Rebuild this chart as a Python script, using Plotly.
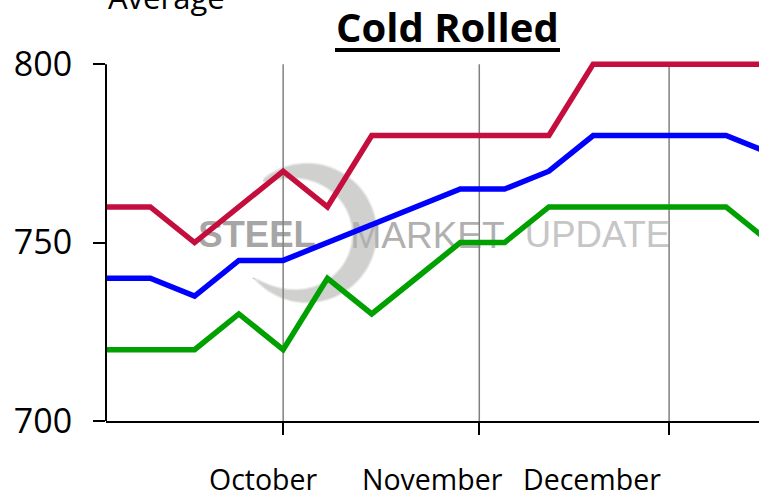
import math
import plotly.graph_objects as go

# Weekly cold rolled price survey ($/ton): high, average and low quotes
weeks = ["2012-09-03", "2012-09-10", "2012-09-17", "2012-09-24",
         "2012-10-01", "2012-10-08", "2012-10-15", "2012-10-22",
         "2012-10-29", "2012-11-05", "2012-11-12", "2012-11-19",
         "2012-11-26", "2012-12-03", "2012-12-10", "2012-12-17"]
high = [760, 760, 750, 760, 770, 760, 780, 780, 780, 780, 780, 800, 800, 800, 800, 800]
average = [740, 740, 735, 745, 745, 750, 755, 760, 765, 765, 770, 780, 780, 780, 780, 775]
low = [720, 720, 720, 730, 720, 740, 730, 740, 750, 750, 760, 760, 760, 760, 760, 750]

month_ticks = ["2012-10-01", "2012-11-01", "2012-12-01"]
month_labels = ["October", "November", "December"]
y_ticks = [700, 750, 800]

W, H = 759, 496
L, R, T, B = 106, 0, 57, 75
PW, PH = W - L - R, H - T - B


def px(x):
    return (x - L) / PW


def py(y):
    return (H - B - y) / PH


fig = go.Figure()
for name, vals, col in [("High", high, "#C40F3E"),
                        ("Average", average, "#0000FF"),
                        ("Low", low, "#00A000")]:
    fig.add_trace(go.Scatter(x=weeks, y=vals, mode="lines", name=name,
                             line=dict(color=col, width=5.5)))

shapes = []


def ring_path(grow):
    """Crescent swoosh of the watermark logo, open on the left."""
    cx, cy, r_out = 307, 233, 69 + grow
    a0, a1 = math.radians(128), math.radians(-140)
    n = 80
    outer, inner = [], []
    for i in range(n + 1):
        u = i / n
        a = a0 + (a1 - a0) * u
        t = 1.0 + 2 * grow + 19.0 * math.sin(math.pi * u) ** 0.6
        outer.append((cx + r_out * math.cos(a), cy - r_out * math.sin(a)))
        ri = r_out - t
        inner.append((cx - 3 + ri * math.cos(a), cy + 2 - ri * math.sin(a)))
    pts = outer + inner[::-1]
    return "M " + " L ".join(f"{px(x):.5f},{py(y):.5f}" for x, y in pts) + " Z"


# soft halo then solid body of the ring
shapes.append(dict(type="path", xref="paper", yref="paper", path=ring_path(1.5),
                   fillcolor="rgba(205,205,203,0.45)", line=dict(width=0), layer="below"))
shapes.append(dict(type="path", xref="paper", yref="paper", path=ring_path(0),
                   fillcolor="#d0d0ce", line=dict(width=0), layer="below"))

for word, x0, x1, col, wt, sz in [("STEEL", 200, 314, "#a6a6a6", "bold", 36.5),
                                  ("MARKET", 347, 508, "#b0b0b0", "normal", 37),
                                  ("UPDATE", 524, 671, "#c6c6c6", "normal", 36.5)]:
    shapes.append(dict(type="rect", xref="paper", yref="paper",
                       x0=px(x0), x1=px(x1), y0=py(252), y1=py(210),
                       line=dict(width=0), fillcolor="rgba(0,0,0,0)", layer="below",
                       label=dict(text=word, textposition="middle center",
                                  font=dict(family="Liberation Sans", size=sz,
                                            color=col, weight=wt))))

# month gridlines and y axis line, stopping at the 800 level
for m in month_ticks:
    shapes.append(dict(type="line", xref="x", yref="y", x0=m, x1=m,
                       y0=y_ticks[0], y1=y_ticks[-1],
                       line=dict(color="#808080", width=1.5), layer="below"))
shapes.append(dict(type="line", xref="paper", yref="y", x0=0, x1=0,
                   y0=y_ticks[0], y1=y_ticks[-1], line=dict(color="black", width=2)))

# heavy underline beneath the title
shapes.append(dict(type="line", xref="paper", yref="paper", x0=px(335), x1=px(560),
                   y0=py(50), y1=py(50), line=dict(color="black", width=4)))

annotations = []
for lab, xc in zip(month_labels, [263, 432, 591.5]):
    annotations.append(dict(text=lab, xref="paper", yref="paper", x=px(xc), y=0,
                            xanchor="center", yanchor="top", yshift=-37,
                            showarrow=False,
                            font=dict(family="Open Sans", size=28.5, color="black")))
annotations.append(dict(text="<b>Cold Rolled</b>", xref="paper", yref="paper",
                        x=px(447), y=1, xanchor="center", yanchor="bottom", yshift=1,
                        showarrow=False,
                        font=dict(family="Open Sans", size=40, color="black")))
annotations.append(dict(text="Average", xref="paper", yref="paper", x=0, y=1,
                        xanchor="left", yanchor="bottom", yshift=37, showarrow=False,
                        font=dict(family="Open Sans", size=31, color="black")))

fig.update_layout(
    width=W, height=H, autosize=False,
    margin=dict(l=L, r=R, t=T, b=B, pad=0),
    paper_bgcolor="white", plot_bgcolor="white",
    showlegend=False,
    shapes=shapes, annotations=annotations,
    xaxis=dict(type="date", range=["2012-09-03", "2012-12-15 05:00"],
               tickvals=month_ticks, showticklabels=False,
               ticks="outside", ticklen=12, tickwidth=2, tickcolor="black",
               showline=True, linecolor="black", linewidth=2,
               showgrid=False, zeroline=False),
    yaxis=dict(range=[700, 802], tickvals=y_ticks,
               ticks="outside", ticklen=12, tickwidth=2, tickcolor="black",
               ticklabelstandoff=14,
               tickfont=dict(family="Open Sans", size=34, color="black"),
               showline=False, showgrid=False, zeroline=False),
)

fig.write_html("out.html")
